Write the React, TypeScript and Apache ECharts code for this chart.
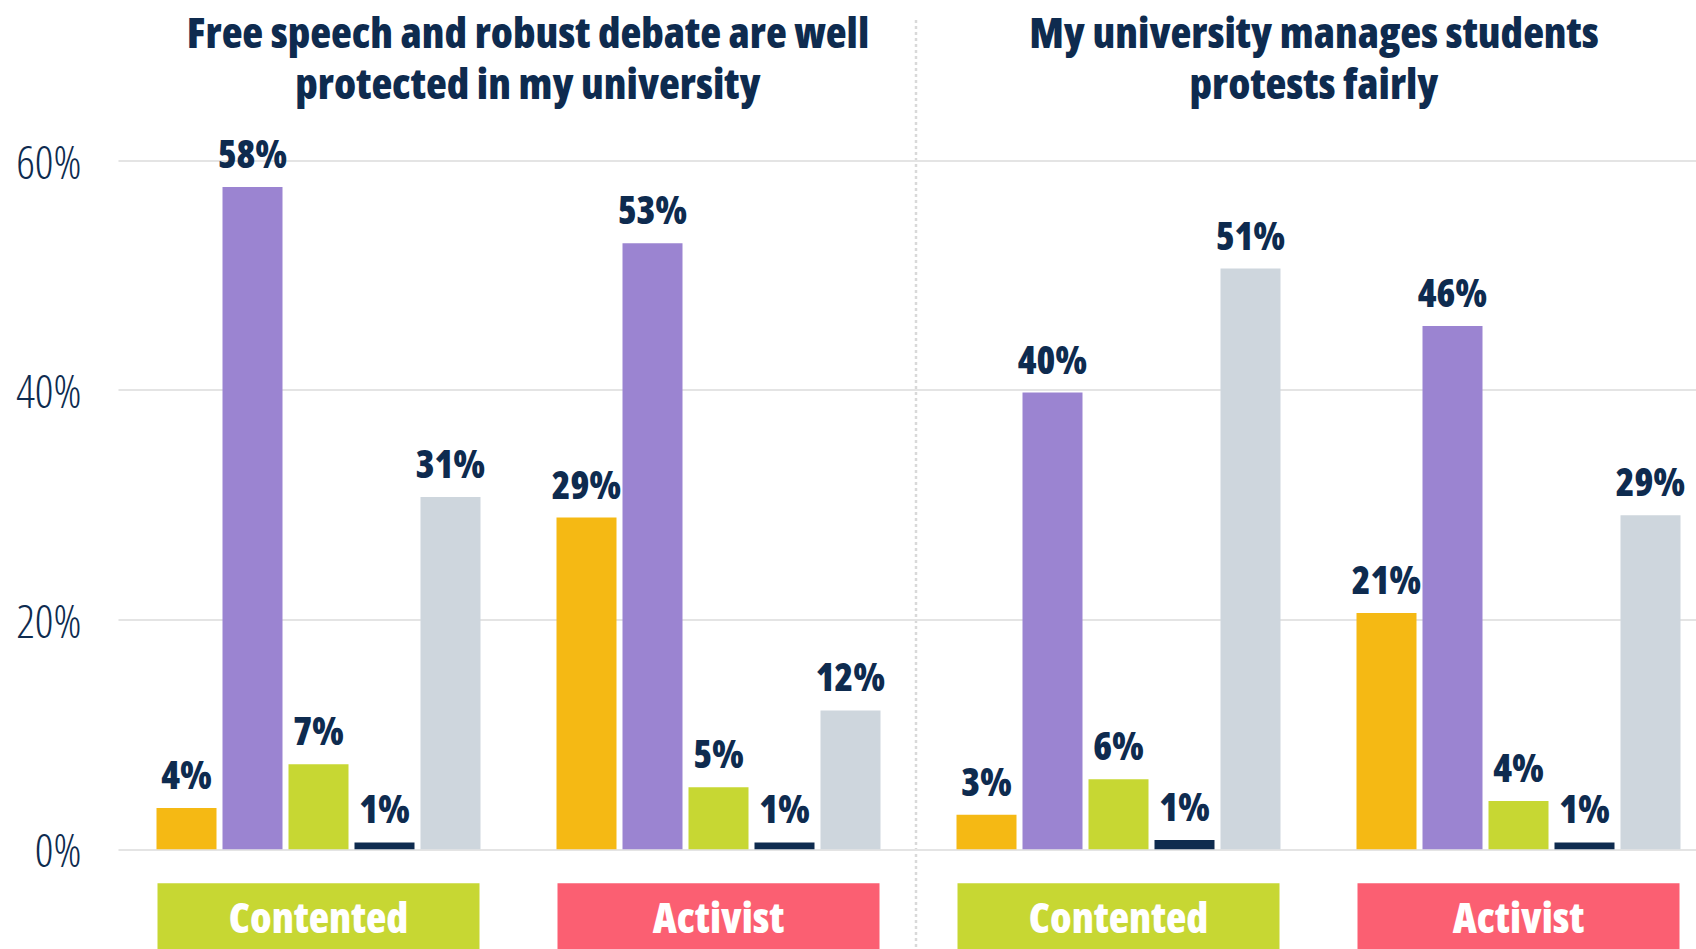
import React, { useEffect, useRef } from "react";
import * as echarts from "echarts";

const categories = ["Contented", "Activist", "Contented", "Activist"];
const panelTitles = [
  "Free speech and robust debate are well\nprotected in my university",
  "My university manages students\nprotests fairly",
];
const seriesNames = ["Response A", "Response B", "Response C", "Response D", "Response E"];
const yellowValues = [3.6, 28.9, 3.0, 20.6];
const purpleValues = [57.7, 52.8, 39.8, 45.6];
const limeValues = [7.4, 5.4, 6.1, 4.2];
const navyValues = [0.6, 0.6, 0.8, 0.6];
const grayValues = [30.7, 12.1, 50.6, 29.1];
const yTicks = [0, 20, 40, 60];

const NAVY = "#0E2B4F";
const FONT = "'Open Sans', sans-serif";
const seriesColors = ["#F5B914", "#9B84D1", "#C7D733", "#0E2B4F", "#CED6DD"];
const allValues = [yellowValues, purpleValues, limeValues, navyValues, grayValues];

export default function App() {
  const ref = useRef<HTMLDivElement>(null);
  useEffect(() => {
    if (!ref.current) return;
    const chart = echarts.init(ref.current, null, { renderer: "svg" });
    const boxStyle = (bg: string) => ({
      backgroundColor: bg,
      width: 322,
      height: 66,
      lineHeight: 66,
      align: "center",
      color: "#ffffff",
      fontSize: 42,
      fontWeight: 800,
      fontFamily: FONT,
    });
    const option: any = {
      animation: false,
      backgroundColor: "#ffffff",
      grid: {
        left: 118.5,
        width: 1600,
        top: 160.7,
        bottom: 99.7,
        containLabel: false,
        outerBoundsMode: "none",
      },
      xAxis: {
        type: "category",
        data: categories,
        axisLine: { show: false },
        axisTick: { show: false },
        axisLabel: {
          interval: 0,
          margin: 34,
          formatter: (v: string) => (v === "Contented" ? `{c|${v}}` : `{a|${v}}`),
          rich: { c: boxStyle("#C7D733"), a: boxStyle("#FB5F72") },
        },
      },
      yAxis: {
        type: "value",
        min: yTicks[0],
        max: yTicks[yTicks.length - 1],
        interval: 20,
        axisLine: { show: false },
        axisTick: { show: false },
        splitLine: { lineStyle: { color: "#e4e4e4", width: 2 } },
        axisLabel: {
          margin: 37,
          padding: [0, 0, 10, 0],
          formatter: (v: number) => `${v}%`,
          color: NAVY,
          fontSize: 46,
          fontWeight: 300,
          fontFamily: FONT,
        },
      },
      series: allValues.map((vals, i) => ({
        type: "bar",
        name: seriesNames[i],
        data: vals,
        barWidth: 60,
        barGap: "10%",
        itemStyle: { color: seriesColors[i] },
        label: {
          show: true,
          position: "top",
          distance: 15,
          formatter: (p: any) => `${Math.round(p.value)}%`,
          color: NAVY,
          fontSize: 38,
          fontWeight: 800,
          fontFamily: FONT,
        },
      })),
      graphic: [
        {
          type: "line",
          shape: { x1: 916, y1: 20, x2: 916, y2: 949 },
          style: { stroke: "#d9d9d9", lineWidth: 2.5, lineDash: [3, 3] },
          z: 0,
        },
        ...panelTitles.map((t, i) => ({
          type: "text",
          x: i === 0 ? 528 : 1314,
          y: 6,
          style: {
            text: t,
            textAlign: "center",
            textVerticalAlign: "top",
            fill: NAVY,
            fontSize: 43,
            fontWeight: 800,
            fontFamily: FONT,
            lineHeight: 51,
          },
        })),
      ],
    };
    chart.setOption(option);
    return () => chart.dispose();
  }, []);
  return (
    <>
      <style>{`.cond-chart text, .cond-chart tspan { font-stretch: 75% !important; }`}</style>
      <div
        ref={ref}
        className="cond-chart"
        style={{ position: "fixed", left: 0, top: 0, width: 1696, height: 949, overflow: "hidden", background: "#fff" }}
      />
    </>
  );
}
